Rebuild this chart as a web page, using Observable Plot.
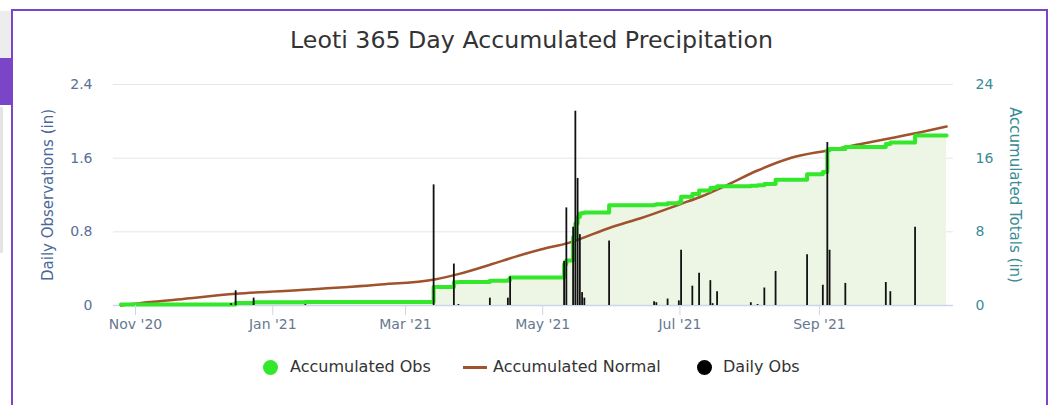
<!DOCTYPE html>
<html><head><meta charset="utf-8">
<script src="https://cdn.jsdelivr.net/npm/d3@7"></script>
<script src="https://cdn.jsdelivr.net/npm/@observablehq/plot@0.6"></script>
<style>
body{margin:0;width:1050px;height:405px;overflow:hidden;background:#fff;font-family:"DejaVu Sans",sans-serif;position:relative}
.abs{position:absolute}
#frame{left:11px;top:9px;width:1037px;height:420px;border:2px solid #7b45c8;border-bottom:none;box-sizing:border-box}
#title{left:0;width:1063px;top:25px;text-align:center;font-size:23.7px;line-height:30px;color:#333}
.ytitle{font-size:15px;white-space:nowrap;line-height:18px}
.leg{font-size:16px;color:#333;line-height:20px;top:357px;white-space:nowrap}
.dot{width:15px;height:15px;border-radius:50%;top:360px}
#chart{left:0;top:70px}
</style></head>
<body>
<div class="abs" style="left:0;top:11px;width:11px;height:47px;background:#ededed"></div>
<div class="abs" style="left:0;top:107px;width:3px;height:146px;background:#e4e4e4"></div>
<div class="abs" id="frame"></div>
<div class="abs" style="left:0;top:58px;width:13px;height:47px;background:#7b45c8"></div>
<div class="abs" id="title">Leoti 365 Day Accumulated Precipitation</div>
<div class="abs ytitle" style="left:48px;top:195px;color:#4a6899;transform:translate(-50%,-50%) rotate(-90deg)">Daily Observations (in)</div>
<div class="abs ytitle" style="left:1015px;top:195px;color:#3a8c96;transform:translate(-50%,-50%) rotate(90deg)">Accumulated Totals (in)</div>
<div class="abs" id="chart"></div>
<div class="abs dot" style="left:263px;background:#33e82a"></div>
<div class="abs leg" style="left:290px">Accumulated Obs</div>
<div class="abs" style="left:463px;top:366px;width:24px;height:3px;background:#a0522d"></div>
<div class="abs leg" style="left:493px">Accumulated Normal</div>
<div class="abs dot" style="left:697px;background:#000"></div>
<div class="abs leg" style="left:723px">Daily Obs</div>
<script>
// Daily observations (in)
const dailyDates = ["2020-12-13","2020-12-15","2020-12-23","2021-01-15","2021-03-13","2021-03-22","2021-03-24","2021-04-07","2021-04-15","2021-04-16","2021-05-10","2021-05-11","2021-05-14","2021-05-15","2021-05-16","2021-05-17","2021-05-18","2021-05-19","2021-05-30","2021-06-19","2021-06-20","2021-06-25","2021-06-30","2021-07-01","2021-07-06","2021-07-09","2021-07-14","2021-07-15","2021-07-17","2021-08-01","2021-08-04","2021-08-07","2021-08-12","2021-08-26","2021-09-02","2021-09-04","2021-09-05","2021-09-12","2021-09-30","2021-10-02","2021-10-13"];
const dailyValues = [0.02,0.16,0.08,0.01,1.31,0.45,0.01,0.08,0.08,0.31,0.48,1.06,0.85,2.11,1.38,0.77,0.14,0.08,0.70,0.04,0.03,0.07,0.05,0.60,0.21,0.35,0.27,0.02,0.15,0.03,0.01,0.19,0.37,0.55,0.22,1.77,0.60,0.24,0.25,0.15,0.85];

// Accumulated observed (in)
const accDates = ["2020-10-25","2020-12-13","2020-12-15","2020-12-23","2021-01-15","2021-03-13","2021-03-22","2021-03-24","2021-04-07","2021-04-15","2021-04-16","2021-05-10","2021-05-11","2021-05-14","2021-05-15","2021-05-16","2021-05-17","2021-05-18","2021-05-19","2021-05-30","2021-06-19","2021-06-20","2021-06-25","2021-06-30","2021-07-01","2021-07-06","2021-07-09","2021-07-14","2021-07-15","2021-07-17","2021-08-01","2021-08-04","2021-08-07","2021-08-12","2021-08-26","2021-09-02","2021-09-04","2021-09-05","2021-09-12","2021-09-30","2021-10-02","2021-10-13","2021-10-27"];
const accValues = [0.1,0.12,0.28,0.36,0.37,2.0,2.53,2.55,2.7,2.78,3.05,4.5,4.9,7.4,8.9,9.6,10.0,10.05,10.1,10.9,10.95,11.0,11.1,11.2,11.8,12.1,12.5,12.75,12.8,12.95,13.0,13.05,13.2,13.65,14.25,14.5,16.85,17.0,17.2,17.55,17.7,18.45,18.45];

// Accumulated normal (in)
const normDates = ["2020-10-25","2020-11-07","2020-11-19","2020-12-15","2021-01-17","2021-02-16","2021-03-14","2021-03-23","2021-04-08","2021-04-17","2021-04-30","2021-05-12","2021-05-31","2021-06-13","2021-07-01","2021-07-10","2021-07-20","2021-08-04","2021-08-19","2021-09-04","2021-09-17","2021-10-02","2021-10-17","2021-10-27"];
const normValues = [0,0.38,0.65,1.27,1.74,2.25,2.85,3.35,4.5,5.2,6.1,6.8,8.5,9.48,11.04,11.84,12.92,14.66,16.04,16.83,17.45,18.17,18.9,19.44];

const xTicks = ["2020-11-01","2021-01-01","2021-03-01","2021-05-01","2021-07-01","2021-09-01"];
const leftTicks = [0, 0.8, 1.6, 2.4];
const rightTicks = [0, 8, 16, 24];

const noon = s => new Date(s + "T12:00:00Z");
const daily = dailyDates.map((d, i) => ({date: noon(d), value: dailyValues[i]}));
const acc = accDates.map((d, i) => ({date: noon(d), value: accValues[i]}));
const norm = normDates.map((d, i) => ({date: noon(d), value: normValues[i]}));

const chart = Plot.plot({
  width: 1050, height: 270,
  marginLeft: 113, marginRight: 97, marginTop: 14, marginBottom: 35,
  style: {fontFamily: "DejaVu Sans", fontSize: "14px", background: "transparent", overflow: "visible"},
  x: {type: "utc", domain: [new Date(Date.UTC(2020, 9, 22, 5)), new Date(Date.UTC(2021, 9, 30, 14))]},
  y: {domain: [0, 2.4]},
  marks: [
    Plot.ruleY(leftTicks.slice(1), {stroke: "#e6e6e6", strokeWidth: 1}),
    Plot.areaY(acc, {x: "date", y: d => d.value / 10, curve: "step-after", fill: "#edf5e5"}),
    Plot.ruleY([0], {stroke: "#ccd6eb", strokeWidth: 1.5}),
    Plot.line(norm, {x: "date", y: d => d.value / 10, curve: "monotone-x", stroke: "#a0522d", strokeWidth: 2.5}),
    Plot.line(acc, {x: "date", y: d => d.value / 10, curve: "step-after", stroke: "#33e82a", strokeWidth: 4}),
    Plot.ruleX(daily, {x: "date", y: "value", stroke: "#111", strokeWidth: 1.8}),
    Plot.axisX({ticks: xTicks.map(s => new Date(s + "T00:00:00Z")), tickFormat: d3.utcFormat("%b '%y"), tickSize: 10, tickPadding: 4, stroke: "#ccd6eb", strokeOpacity: 1, fill: "#66788f", fontSize: 14, label: null}),
    Plot.axisY({ticks: leftTicks, tickFormat: d => d === 0 ? "0" : d3.format(".1f")(d), tickSize: 0, tickPadding: 21, fill: "#5a6f95", fontSize: 14, label: null}),
    Plot.axisY({anchor: "right", ticks: rightTicks.map(v => v / 10), tickFormat: d => String(Math.round(d * 10)), tickSize: 0, tickPadding: 22, fill: "#3a8c96", fontSize: 14, label: null})
  ]
});
document.getElementById("chart").appendChild(chart);
</script>
</body></html>
